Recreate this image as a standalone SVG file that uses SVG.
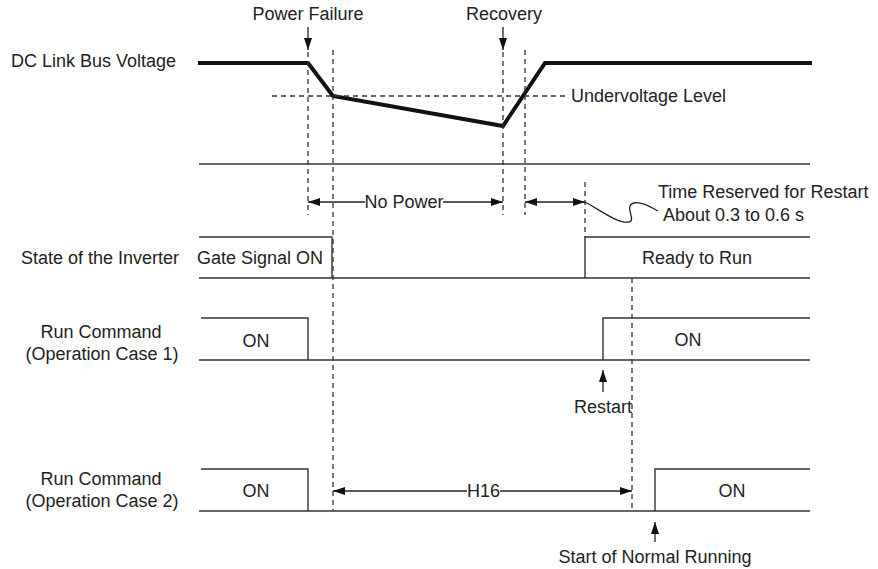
<svg xmlns="http://www.w3.org/2000/svg" width="878" height="569" viewBox="0 0 878 569">
<defs>
<style>
text{font-family:"Liberation Sans",Arial,sans-serif;font-size:18px;fill:#222}
.c{text-anchor:middle}
.e{text-anchor:end}
.ln{stroke:#333;stroke-width:1.4;fill:none}
.dash{stroke:#333;stroke-width:1.3;stroke-dasharray:5,4;fill:none}
.thick{stroke:#111;stroke-width:4;fill:none;stroke-linejoin:miter}
.arr{stroke:#222;stroke-width:1.3;fill:none}
</style>
<marker id="ah" viewBox="0 0 12 8" refX="12" refY="4" markerWidth="12" markerHeight="8" markerUnits="userSpaceOnUse" orient="auto-start-reverse">
<path d="M0,0 L12,4 L0,8 Z" fill="#111"/>
</marker>
</defs>
<rect width="878" height="569" fill="#fff"/>

<g id="labels">
<text x="11" y="67">DC Link Bus Voltage</text>
<text x="179" y="264" class="e">State of the Inverter</text>
<text x="101" y="338" class="c">Run Command</text>
<text x="102" y="360" class="c">(Operation Case 1)</text>
<text x="101" y="485" class="c">Run Command</text>
<text x="102" y="507" class="c">(Operation Case 2)</text>
</g>

<g id="dc-bus">
<path class="thick" d="M198,63 L308,63 L333,96 L503,126 L545,63 L812,63"/>
<line class="dash" x1="272" y1="96" x2="565" y2="96"/>
<text x="571" y="102">Undervoltage Level</text>
<line class="ln" x1="199" y1="164" x2="810" y2="164"/>
</g>

<g id="events">
<text x="308" y="20" class="c">Power Failure</text>
<text x="504" y="20" class="c">Recovery</text>
<text x="658" y="198">Time Reserved for Restart</text>
<text x="663" y="221">About 0.3 to 0.6 s</text>
<path class="arr" d="M585,202 C600,210 618,224 629,222 C637,220 623,206 634,203 C642,201 652,208 658,211"/>
</g>

<g id="inverter-state">
<path class="ln" d="M199,237 L332,237 L332,278"/>
<path class="ln" d="M585,278 L585,237 L810,237"/>
<line class="ln" x1="199" y1="278" x2="810" y2="278"/>
<text x="197" y="264">Gate Signal ON</text>
<text x="697" y="264" class="c">Ready to Run</text>
</g>

<g id="run-case1">
<path class="ln" d="M201,318 L308,318 L308,360"/>
<path class="ln" d="M603,360 L603,318 L810,318"/>
<line class="ln" x1="199" y1="360" x2="810" y2="360"/>
<text x="256" y="347" class="c">ON</text>
<text x="688" y="346" class="c">ON</text>
<text x="603" y="413" class="c">Restart</text>
</g>

<g id="run-case2">
<path class="ln" d="M201,469 L308,469 L308,511"/>
<path class="ln" d="M655,511 L655,469 L810,469"/>
<line class="ln" x1="199" y1="511" x2="810" y2="511"/>
<text x="256" y="497" class="c">ON</text>
<text x="732" y="497" class="c">ON</text>
<text x="655" y="563" class="c">Start of Normal Running</text>
<text x="483.5" y="497" class="c">H16</text>
<text x="404" y="208" class="c">No Power</text>
</g>

<g id="connectors">
<line class="dash" x1="308" y1="52" x2="308" y2="215"/>
<line class="dash" x1="333" y1="50" x2="333" y2="511"/>
<line class="dash" x1="503" y1="52" x2="503" y2="215"/>
<line class="dash" x1="525" y1="50" x2="525" y2="215"/>
<line class="dash" x1="585" y1="182" x2="585" y2="237"/>
<line class="dash" x1="632" y1="278" x2="632" y2="511"/>
<line class="arr" x1="308" y1="27" x2="308" y2="50" marker-end="url(#ah)"/>
<line class="arr" x1="503" y1="27" x2="503" y2="50" marker-end="url(#ah)"/>
<line class="arr" x1="365" y1="202" x2="308" y2="202" marker-end="url(#ah)"/>
<line class="arr" x1="443" y1="202" x2="503" y2="202" marker-end="url(#ah)"/>
<line class="arr" x1="525" y1="202" x2="585" y2="202" marker-start="url(#ah)" marker-end="url(#ah)"/>
<line class="arr" x1="467" y1="491" x2="333" y2="491" marker-end="url(#ah)"/>
<line class="arr" x1="500" y1="491" x2="632" y2="491" marker-end="url(#ah)"/>
<line class="arr" x1="603" y1="392" x2="603" y2="370" marker-end="url(#ah)"/>
<line class="arr" x1="655" y1="542" x2="655" y2="522" marker-end="url(#ah)"/>
</g>
</svg>
